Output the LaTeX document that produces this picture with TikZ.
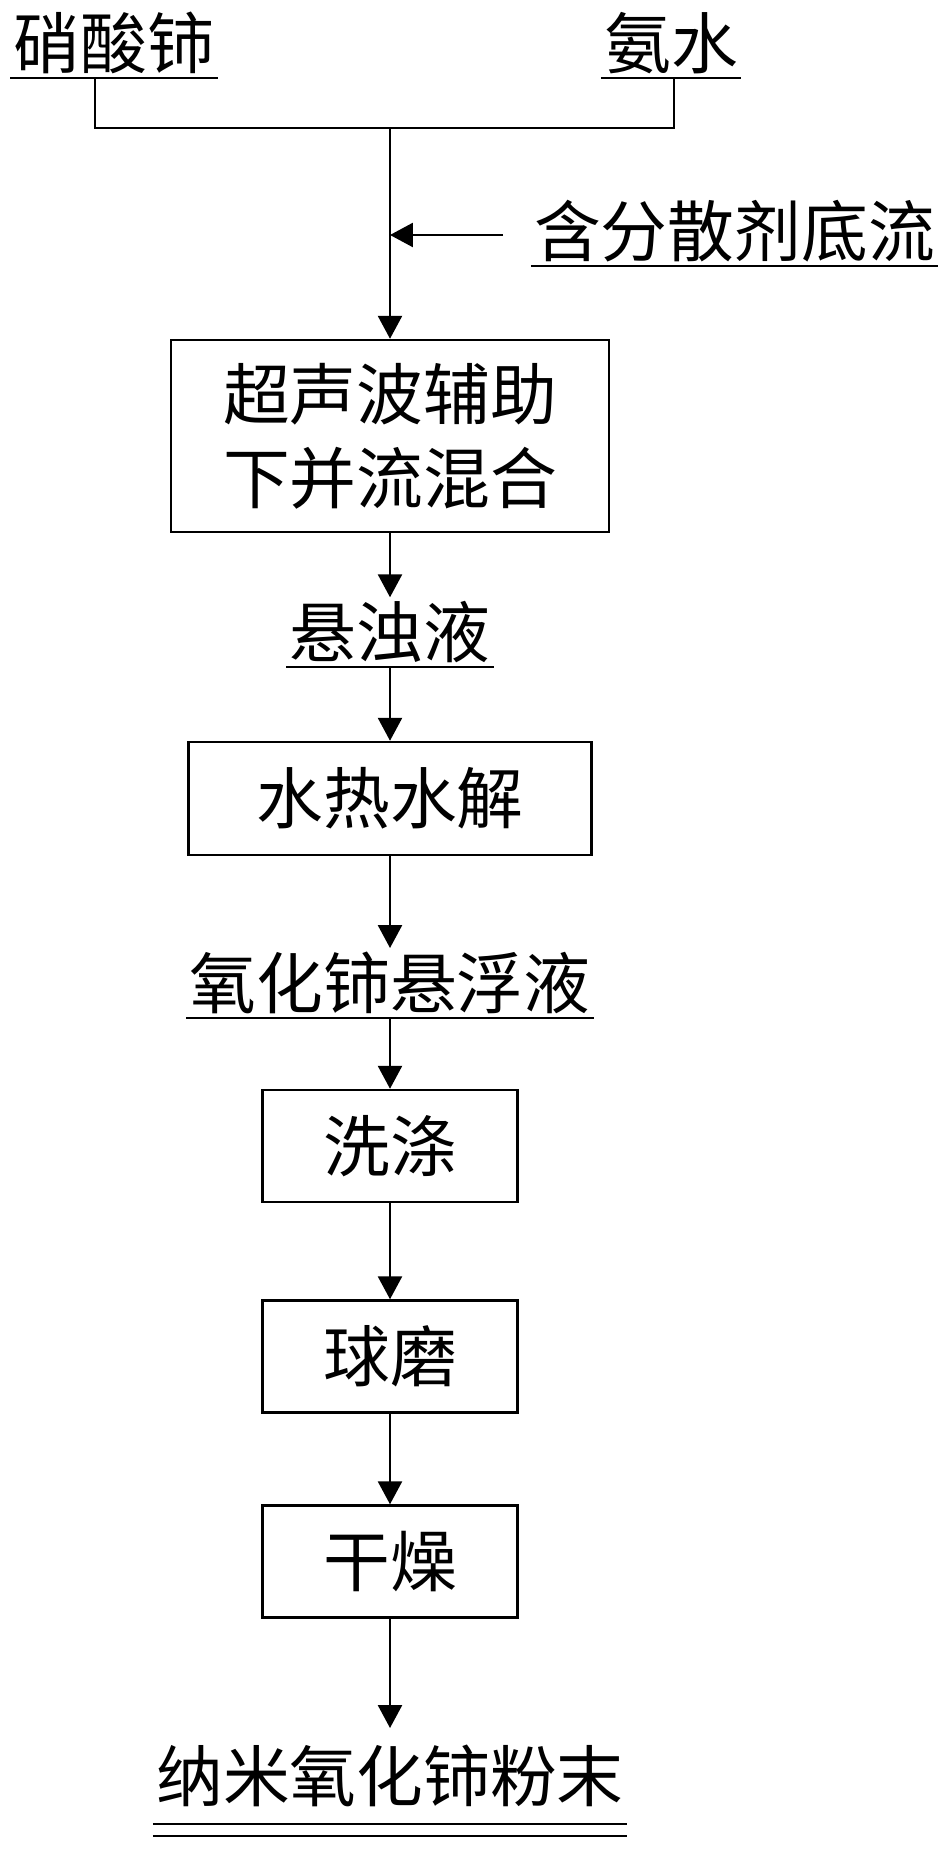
\documentclass[tikz,border=0pt]{standalone}
\usepackage{fontspec}
\newfontfamily\cjk{Noto Sans CJK SC}
\usepackage{tikz}
\usetikzlibrary{arrows.meta, positioning}

\begin{document}
\begin{tikzpicture}[
  >={Triangle[length=6.5pt,width=6.8pt]},
  line width=0.7pt,
  proc/.style={draw, line width=0.7pt, font=\cjk\fontsize{19}{24}\selectfont,
    align=center, inner sep=0pt},
  stuff/.style={font=\cjk\fontsize{19}{24}\selectfont, inner xsep=0.6pt,
    inner ysep=0.8pt, anchor=south}
]
\useasboundingbox (0,0) rectangle (9.46,-18.51);

% raw materials
\node[stuff] (ce) at (1.14,-0.78) {硝酸铈};
\node[stuff] (nh) at (6.71,-0.78) {氨水};
\draw (ce.south west) -- (ce.south east);
\draw (nh.south west) -- (nh.south east);
\coordinate (mix) at (3.90,-1.28);
\draw ([xshift=-0.19cm]ce.south) |- (mix) -| ([xshift=0.03cm]nh.south);

% dispersant feed
\node[stuff] (disp) at (7.345,-2.66) {含分散剂底流};
\draw (disp.south west) -- (disp.south east);
\coordinate (side) at (5.03,-2.35);
\draw[->] (side) -- (side -| mix);

% co-precipitation
\node[proc, minimum width=4.38cm, minimum height=1.92cm] (mixing) at (3.90,-4.36)
  {超声波辅助\\下并流混合};
\draw[->] (mix) -- (mixing.north);

\node[stuff] (turbid) at (3.90,-6.67) {悬浊液};
\draw (turbid.south west) -- (turbid.south east);
\draw[->] (mixing.south) -- (turbid.north);

% hydrothermal step
\node[proc, minimum width=4.03cm, minimum height=1.13cm] (hydro) at (3.90,-7.985) {水热水解};
\draw[->] (turbid.south) -- (hydro.north);

\node[stuff] (susp) at (3.90,-10.18) {氧化铈悬浮液};
\draw (susp.south west) -- (susp.south east);
\draw[->] (hydro.south) -- (susp.north);

% post treatment
\foreach \name/\txt/\y in {wash/洗涤/11.46, mill/球磨/13.565, dry/干燥/15.615} {
  \node[proc, minimum width=2.55cm, minimum height=1.12cm] (\name) at (3.90,-\y) {\txt};
}
\draw[->] (susp.south) -- (wash.north);
\draw[->] (wash.south) -- (mill.north);
\draw[->] (mill.south) -- (dry.north);

% product
\node[stuff, inner ysep=4.5pt] (prod) at (3.90,-18.24) {纳米氧化铈粉末};
\draw (prod.south west) -- (prod.south east);
\draw ([yshift=-0.12cm]prod.south west) -- ([yshift=-0.12cm]prod.south east);
\draw[->] (dry.south) -- (prod.north);
\end{tikzpicture}
\end{document}
